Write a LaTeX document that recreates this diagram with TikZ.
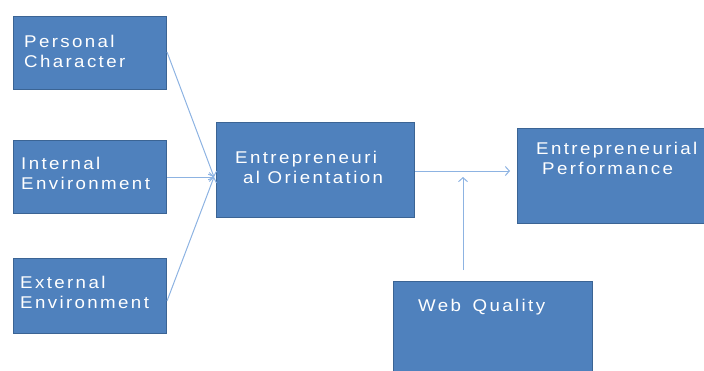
\documentclass[tikz,border=0pt]{standalone}
\usepackage{fontspec}
\setmainfont[FakeStretch=1.1,LetterSpace=14]{Liberation Sans}
\usetikzlibrary{arrows.meta}
\definecolor{boxfill}{HTML}{4F81BD}
\definecolor{boxline}{HTML}{3B6494}
\definecolor{arrcol}{HTML}{8DB3E2}
\tikzset{
  box/.style={draw=boxline, line width=1pt, fill=boxfill, rectangle, anchor=north west, inner sep=0pt},
  lbl/.style={anchor=west, text=white, inner sep=0pt, font=\fontsize{17}{20}\selectfont, align=left},
  arr/.style={draw=arrcol, line width=1pt, -{Straight Barb[length=4pt,width=9pt]}}
}
\begin{document}
\begin{tikzpicture}[x=1pt,y=-1pt]
\useasboundingbox (0,0) rectangle (704,370);
\clip (0,0) rectangle (704,370);
\node[box, minimum width=153pt, minimum height=73pt] (pc) at (13,16) {};
\node[box, minimum width=153pt, minimum height=73pt] (ie) at (13,140) {};
\node[box, minimum width=153pt, minimum height=75pt] (ee) at (13,258) {};
\node[box, minimum width=198pt, minimum height=95pt] (eo) at (216,122) {};
\node[box, minimum width=200pt, minimum height=95pt] (ep) at (517,128) {};
\node[box, minimum width=199pt, minimum height=100pt] (wq) at (393,281) {};
\node[lbl] (tpc) at (24,51) {Personal\\Character};
\node[lbl] (tie) at (21,173) {Internal\\Environment};
\node[lbl] (tee) at (20,292) {External\\Environment};
\node[lbl] (teo1) at (235,159) {Entrepreneuri};
\node[lbl] (teo2) at (243,177) {al Orientation};
\node[lbl] (tep1) at (536,150) {Entrepreneurial};
\node[lbl] (tep2) at (542,168) {Performance};
\node[lbl] (twq) at (418,307) {Web\hspace{4pt} Quality};
\coordinate (eoin) at (214,177);
\coordinate (epin) at (510,171);
\coordinate (wqout) at (463,270);
\coordinate (wqin) at (463,177);
\draw[arr] ([yshift=1pt]pc.east) -- (eoin);
\draw[arr] (ie.east) -- (eoin);
\draw[arr] ([yshift=-5pt]ee.east) -- (eoin);
\draw[arr] (eo.east |- epin) -- (epin);
\draw[arr] (wqout) -- (wqin);
\end{tikzpicture}
\end{document}
